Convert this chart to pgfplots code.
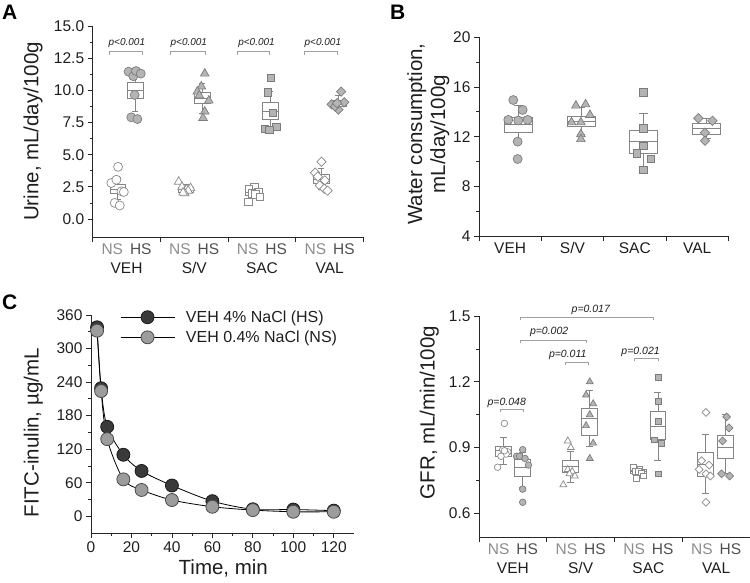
\documentclass[border=0pt]{standalone}
\usepackage{pgfplots}
\pgfplotsset{compat=1.18}
\usepgfplotslibrary{statistics}
\usepackage{fontspec}
\setmainfont{Liberation Sans}
\definecolor{axiscol}{HTML}{262626}
\definecolor{tickcol}{HTML}{1E1E1E}
\definecolor{nscol}{HTML}{8C8C8C}
\definecolor{hscol}{HTML}{505050}
\definecolor{boxcol}{HTML}{858585}
\definecolor{ptfill}{HTML}{B4B4B4}
\definecolor{ptedge}{HTML}{7C7C7C}
\definecolor{opedge}{HTML}{8A8A8A}
\definecolor{brk}{HTML}{A0A0A0}
\definecolor{darkfill}{HTML}{3A3A3A}
\definecolor{darkedge}{HTML}{1A1A1A}
\definecolor{midfill}{HTML}{9C9C9C}
\definecolor{midedge}{HTML}{4A4A4A}
\newcommand{\ticksize}{\fontsize{15.5}{19}\selectfont}
\newcommand{\labsize}{\fontsize{20.5}{23}\selectfont}
\newcommand{\pA}{\fontsize{10}{12}\selectfont\itshape}
\newcommand{\pD}{\fontsize{10.5}{12}\selectfont\itshape}
\newcommand{\bx}[8]{\addplot[boxcol, line width=0.7pt, solid, boxplot prepared={draw direction=y, draw position=#1, lower whisker=#2, lower quartile=#3, median=#4, upper quartile=#5, upper whisker=#6, box extend=#7, whisker extend=#8}] coordinates {};}
\newcommand{\lab}[1]{{\color{nscol}NS}\hspace{7pt}{\color{hscol}HS}\\#1}
\pgfplotsset{
  panel/.style={
    scale only axis, clip=false,
    axis x line=bottom, axis y line=left,
    axis line style={-, draw=axiscol, line width=0.8pt},
    tick style={draw=axiscol, line width=0.8pt},
    tick align=outside,
    major tick length=5pt, minor tick length=3pt,
    tick label style={font=\ticksize, text=tickcol},
    label style={font=\labsize, text=tickcol},
    /pgf/number format/assume math mode=true,
  },
  grp/.style={
    xmin=0, xmax=8,
    xtick={0,2,4,6,8}, xticklabels={,,,,},
    extra x ticks={1,3,5,7},
    xticklabel style={align=center},
    extra x tick style={major tick length=0pt, xticklabel style={yshift=-3pt}},
  },
  openm/.style={only marks, every mark/.append style={solid, fill=white, draw=opedge, line width=0.7pt}},
  fillm/.style={only marks, every mark/.append style={solid, fill=ptfill, draw=ptedge, line width=0.7pt}},
  diam/.style={mark=square*, every mark/.append style={rotate=45}},
  brack/.style={brk, line width=0.8pt, mark=none},
}
\begin{document}
\begin{tikzpicture}
\path[use as bounding box] (0,0) rectangle (750pt,-582pt);
\node[anchor=north west, inner sep=0pt, font=\fontsize{21}{21}\selectfont\bfseries] at (2pt,-5pt) {A};
\node[anchor=north west, inner sep=0pt, font=\fontsize{21}{21}\selectfont\bfseries] at (390pt,-5pt) {B};
\node[anchor=north west, inner sep=0pt, font=\fontsize{21}{21}\selectfont\bfseries] at (2pt,-295pt) {C};

% ---------------- Panel A ----------------
\begin{axis}[panel, grp, at={(92.7pt,-237pt)}, anchor=south west,
  width=270.8pt, height=211pt, ymin=-1.4, ymax=15,
  ytick={0,2.5,5,7.5,10,12.5,15}, minor y tick num=1,
  yticklabel style={/pgf/number format/.cd, fixed, fixed zerofill, precision=1},
  ylabel={Urine, mL/day/100g},
  ylabel style={at={(axis description cs:-0.22,0.5)}, anchor=center},
  extra x tick labels={\lab{VEH},\lab{S/V},\lab{SAC},\lab{VAL}},
]
\bx{0.74}{1.5}{2.0}{2.3}{2.68}{3.25}{0.46}{0.18}
\bx{1.26}{8.4}{9.37}{10.03}{10.63}{11.6}{0.46}{0.18}
\bx{2.75}{2.0}{2.1}{2.3}{2.45}{2.7}{0.46}{0.18}
\bx{3.24}{8.2}{9.0}{9.38}{9.82}{10.55}{0.46}{0.18}
\bx{4.75}{1.6}{1.85}{2.05}{2.25}{2.45}{0.46}{0.18}
\bx{5.25}{7.0}{7.75}{8.4}{9.07}{9.9}{0.46}{0.18}
\bx{6.75}{2.3}{2.75}{3.1}{3.5}{3.95}{0.46}{0.18}
\bx{7.25}{8.5}{8.75}{9.0}{9.25}{9.6}{0.46}{0.18}
\addplot[openm, mark=*, mark size=4.5pt] coordinates {(0.75,4.05) (0.55,2.8) (0.70,3.05) (0.85,2.15) (0.92,2.1) (0.65,1.25) (0.80,1.05)};
\addplot[fillm, mark=*, mark size=4.5pt] coordinates {(1.06,11.45) (1.20,11.1) (1.28,11.5) (1.42,11.3) (1.24,9.64) (1.14,7.9) (1.32,7.77)};
\addplot[openm, mark=triangle*, mark size=5pt] coordinates {(2.54,2.9) (2.64,2.5) (2.89,2.4) (2.77,2.3) (2.82,2.2) (2.72,2.0) (2.67,2.05)};
\addplot[fillm, mark=triangle*, mark size=5pt] coordinates {(3.31,11.3) (3.21,10.3) (3.09,9.9) (3.15,9.6) (3.43,9.2) (3.31,8.35) (3.26,7.85)};
\addplot[openm, mark=square*, mark size=3.7pt] coordinates {(4.77,2.5) (4.62,2.35) (4.89,2.1) (4.70,2.0) (4.80,1.9) (4.94,1.7) (4.60,1.35)};
\addplot[fillm, mark=square*, mark size=3.7pt] coordinates {(5.27,10.95) (5.17,9.85) (5.32,8.25) (5.42,7.15) (5.09,7.0) (5.22,6.95)};
\addplot[openm, diam, mark size=3.3pt] coordinates {(6.76,4.45) (6.57,3.6) (6.65,3.3) (6.86,3.0) (6.71,2.6) (6.84,2.35) (6.94,2.2)};
\addplot[fillm, diam, mark size=3.3pt] coordinates {(7.34,9.9) (7.43,9.07) (7.06,8.91) (7.26,8.5) (7.16,8.75) (7.22,9.0)};
\addplot[brack] coordinates {(0.48,12.77) (0.48,13.0) (1.46,13.0) (1.46,12.77)};
\addplot[brack] coordinates {(2.31,12.77) (2.31,13.0) (3.32,13.0) (3.32,12.77)};
\addplot[brack] coordinates {(4.27,12.77) (4.27,13.0) (5.23,13.0) (5.23,12.77)};
\addplot[brack] coordinates {(6.24,12.77) (6.24,13.0) (7.24,13.0) (7.24,12.77)};
\node[font=\pA, text=tickcol] at (axis cs:1.01,13.7) {p<0.001};
\node[font=\pA, text=tickcol] at (axis cs:2.84,13.7) {p<0.001};
\node[font=\pA, text=tickcol] at (axis cs:4.84,13.7) {p<0.001};
\node[font=\pA, text=tickcol] at (axis cs:6.80,13.7) {p<0.001};
\end{axis}

% ---------------- Panel B ----------------
\begin{axis}[panel, grp, at={(479pt,-236pt)}, anchor=south west,
  width=249.3pt, height=198.7pt, ymin=4, ymax=20,
  ytick={4,8,12,16,20}, minor y tick num=1,
  ylabel={Water consumption,\\mL/day/100g},
  ylabel style={align=center, at={(axis description cs:-0.203,0.513)}, anchor=center},
  extra x tick labels={VEH,S/V,SAC,VAL},
]
\bx{1.26}{11.46}{12.35}{13.0}{13.56}{14.55}{0.9}{0.27}
\bx{3.27}{12.2}{12.8}{13.26}{13.66}{14.4}{0.9}{0.27}
\bx{5.28}{9.5}{10.66}{11.65}{12.53}{13.88}{0.9}{0.27}
\bx{7.30}{11.9}{12.21}{12.67}{13.07}{13.5}{0.9}{0.27}
\addplot[fillm, mark=*, mark size=4.5pt] coordinates {(1.10,14.95) (1.40,14.15) (0.94,13.35) (1.26,13.3) (1.56,13.35) (1.24,11.6) (1.24,10.2)};
\addplot[fillm, mark=triangle*, mark size=5pt] coordinates {(3.11,14.5) (3.42,14.6) (3.56,13.75) (2.97,13.15) (3.27,13.15) (3.27,12.2) (3.27,11.8)};
\addplot[fillm, mark=square*, mark size=3.7pt] coordinates {(5.27,15.57) (5.27,12.67) (5.27,11.25) (5.06,10.66) (5.51,10.2) (5.27,9.31)};
\addplot[fillm, diam, mark size=3.3pt] coordinates {(7.04,13.48) (7.49,13.28) (7.25,12.32) (7.25,11.67)};
\end{axis}

% ---------------- Panel C ----------------
\begin{axis}[panel, at={(91pt,-533pt)}, anchor=south west,
  width=263pt, height=218pt, xmin=0, xmax=130, ymin=-30, ymax=360,
  xtick={0,20,...,120}, minor x tick num=1,
  ytick={0,60,...,360}, minor y tick num=1,
  xlabel={Time, min}, ylabel={FITC-inulin, µg/mL},
  xlabel style={at={(axis description cs:0.503,-0.16)}, anchor=center},
  ylabel style={at={(axis description cs:-0.219,0.46)}, anchor=center},
  legend style={draw=none, fill=none, font=\fontsize{16}{19}\selectfont, text=tickcol,
    at={(axis description cs:0.11,1.03)}, anchor=north west, inner sep=0pt, row sep=3pt, column sep=9pt,
    cells={anchor=west}},
  legend image code/.code={\draw[mark repeat=2,mark phase=2,#1] plot coordinates {(0pt,0pt) (27pt,0pt) (54pt,0pt)};},
]
\addplot[black, line width=0.8pt, smooth, mark=*, mark size=6.5pt, mark options={solid, fill=darkfill, draw=darkedge}] coordinates {(3,338) (5,229) (8,160) (16,110) (25,81) (40,55) (60,27) (80,12.5) (100,12) (120,10)};
\addlegendentry{VEH 4\% NaCl (HS)}
\addplot[black, line width=0.8pt, smooth, mark=*, mark size=6.5pt, mark options={solid, fill=midfill, draw=midedge}] coordinates {(3,332) (5,224) (8,138) (16,66) (25,47) (40,29) (60,17) (80,11) (100,8) (120,8)};
\addlegendentry{VEH 0.4\% NaCl (NS)}
\end{axis}

% ---------------- Panel D ----------------
\begin{axis}[panel, grp, at={(479pt,-537.3pt)}, anchor=south west,
  width=271pt, height=221.2pt, ymin=0.49, ymax=1.5,
  ytick={0.6,0.9,1.2,1.5}, minor y tick num=1,
  yticklabel style={/pgf/number format/.cd, fixed, fixed zerofill, precision=1},
  ylabel={GFR, mL/min/100g},
  ylabel style={at={(axis description cs:-0.183,0.564)}, anchor=center},
  extra x tick labels={\lab{VEH},\lab{S/V},\lab{SAC},\lab{VAL}},
]
\bx{0.73}{0.824}{0.858}{0.886}{0.907}{0.947}{0.47}{0.2}
\bx{1.28}{0.72}{0.77}{0.81}{0.845}{0.88}{0.47}{0.2}
\bx{2.69}{0.742}{0.785}{0.813}{0.843}{0.881}{0.47}{0.2}
\bx{3.27}{0.904}{0.957}{1.034}{1.079}{1.163}{0.47}{0.2}
\bx{4.70}{0.77}{0.78}{0.79}{0.80}{0.81}{0.47}{0.2}
\bx{5.28}{0.843}{0.935}{0.996}{1.064}{1.152}{0.47}{0.2}
\bx{6.68}{0.69}{0.767}{0.825}{0.879}{0.961}{0.47}{0.2}
\bx{7.27}{0.784}{0.851}{0.901}{0.957}{1.05}{0.47}{0.2}
\addplot[openm, mark=*, mark size=3.3pt] coordinates {(0.75,1.01) (0.55,0.81) (0.70,0.89) (0.85,0.88) (0.80,0.87) (0.65,0.86) (0.75,0.885)};
\addplot[fillm, mark=*, mark size=3.3pt] coordinates {(1.29,0.89) (1.11,0.86) (1.20,0.86) (1.36,0.85) (1.46,0.82) (1.29,0.71) (1.29,0.65)};
\addplot[openm, mark=triangle*, mark size=4pt] coordinates {(2.62,0.93) (2.71,0.90) (2.49,0.73) (2.62,0.80) (2.75,0.79) (2.83,0.77) (2.67,0.78)};
\addplot[fillm, mark=triangle*, mark size=4pt] coordinates {(3.27,1.20) (3.16,1.14) (3.37,1.10) (3.27,1.05) (3.16,1.00) (3.37,0.92) (3.27,0.85)};
\addplot[openm, mark=square*, mark size=2.8pt] coordinates {(4.55,0.81) (4.75,0.80) (4.60,0.79) (4.70,0.79) (4.80,0.785) (4.85,0.77) (4.65,0.76)};
\addplot[fillm, mark=square*, mark size=2.8pt] coordinates {(5.29,1.22) (5.29,1.11) (5.29,1.02) (5.17,0.935) (5.39,0.92) (5.29,0.78)};
\addplot[openm, diam, mark size=2.8pt] coordinates {(6.70,1.06) (6.70,0.65) (6.57,0.84) (6.79,0.82) (6.50,0.80) (6.70,0.78) (6.83,0.77)};
\addplot[fillm, diam, mark size=2.8pt] coordinates {(7.31,1.04) (7.38,0.99) (7.19,0.93) (7.16,0.78) (7.40,0.77)};
\addplot[brack] coordinates {(0.62,1.060) (0.62,1.072) (1.31,1.072) (1.31,1.060)};
\addplot[brack] coordinates {(1.21,1.376) (1.21,1.388) (3.18,1.388) (3.18,1.376)};
\addplot[brack] coordinates {(2.56,1.278) (2.56,1.290) (3.23,1.290) (3.23,1.278)};
\addplot[brack] coordinates {(1.21,1.481) (1.21,1.493) (5.14,1.493) (5.14,1.481)};
\addplot[brack] coordinates {(4.60,1.293) (4.60,1.305) (5.29,1.305) (5.29,1.293)};
\node[font=\pD, text=tickcol] at (axis cs:0.82,1.105) {p=0.048};
\node[font=\pD, text=tickcol] at (axis cs:2.07,1.426) {p=0.002};
\node[font=\pD, text=tickcol] at (axis cs:2.62,1.323) {p=0.011};
\node[font=\pD, text=tickcol] at (axis cs:3.30,1.528) {p=0.017};
\node[font=\pD, text=tickcol] at (axis cs:4.77,1.338) {p=0.021};
\end{axis}
\end{tikzpicture}
\end{document}
